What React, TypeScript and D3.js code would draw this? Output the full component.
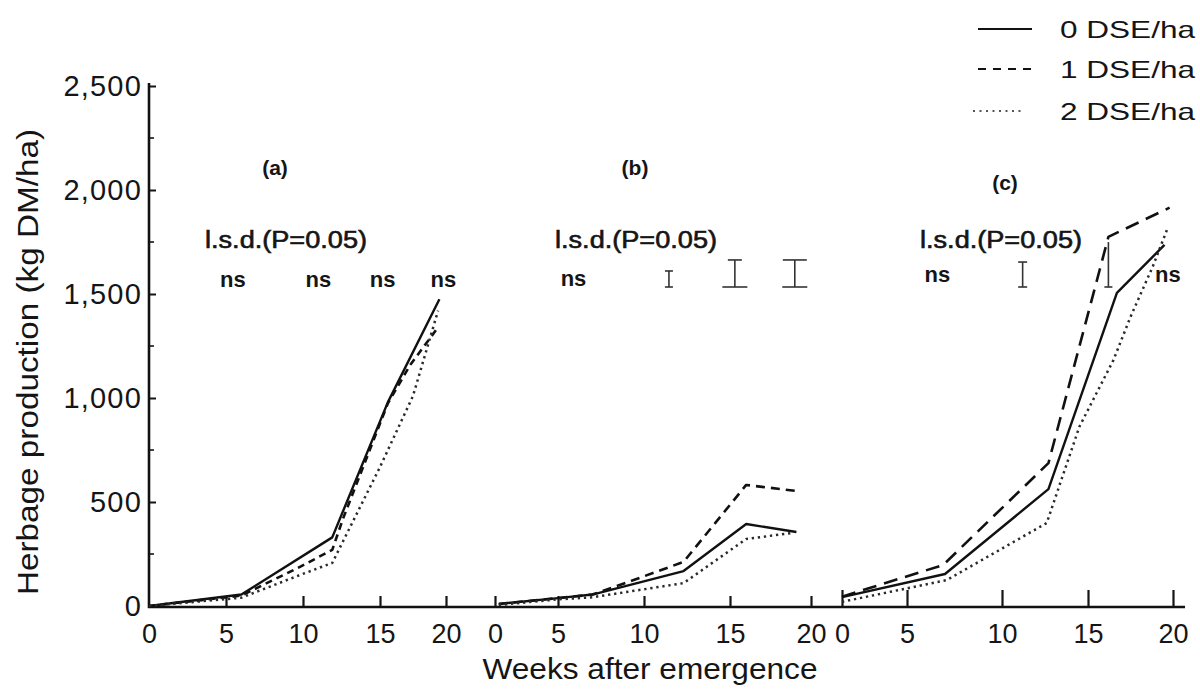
import React, { useRef, useEffect } from "react";
import * as d3 from "d3";

// y axis
const yTicks = [0, 500, 1000, 1500, 2000, 2500];
const yMinorTicks = [250, 750, 1250, 1750, 2250];
const weekTicks = [0, 5, 10, 15, 20];

// series: [week, kg DM/ha]
const panelA0 = [[0, 0], [6, 55], [11.9, 330], [15.6, 980], [19.5, 1475]];
const panelA1 = [[0, 0], [6, 50], [9.8, 188], [11.9, 270], [12.6, 420], [15.6, 975], [17.3, 1160], [19.4, 1340]];
const panelA2 = [[0, 0], [6, 40], [9.8, 149], [11.9, 207], [15, 668], [17.5, 1010], [19.4, 1420]];

const panelB0 = [[0.3, 10], [5, 38], [7, 55], [12.3, 168], [16, 394], [19.1, 356]];
const panelB1 = [[0.3, 10], [5, 38], [7, 55], [9.4, 125], [12.3, 212], [16, 582], [19.1, 553]];
const panelB2 = [[0.3, 5], [5, 32], [7, 42], [12.3, 110], [16, 322], [18.8, 351]];

const panelC0 = [[0, 43], [7, 154], [12.7, 562], [16.7, 1505], [19.5, 1736]];
const panelC1 = [[0, 45], [6.9, 197], [12.7, 687], [15.7, 1620], [16.2, 1775], [19.8, 1915]];
const panelC2 = [[0, 20], [7.1, 125], [12.6, 399], [14.5, 862], [16.5, 1183], [17.5, 1390], [18.8, 1630], [19.7, 1820]];

// l.s.d. (P=0.05): week of each sampling, null = ns
const lsdWeeksA = [5.45, 11, 15.2, 19.8];
const lsdValuesA = [null, null, null, null];
const lsdWeeksB = [5.9, 11.45, 15.3, 19.0];
const lsdValuesB = [null, 77, 130, 130];
const lsdWeeksC = [6.6, 11.2, 16.2, 19.7];
const lsdValuesC = [null, 120, 216, null];

const panelNames = ["(a)", "(b)", "(c)"];
const seriesNames = ["0 DSE/ha", "1 DSE/ha", "2 DSE/ha"];

const FONT = "'Liberation Sans', Arial, Helvetica, sans-serif";
const INK = "#151515";

const App = () => {
  const svgRef = useRef(null);
  const width = 1200;
  const height = 689;

  useEffect(() => {
    const svg = d3.select(svgRef.current);
    svg.selectAll("*").remove();

    const yScale = d3.scaleLinear().domain([0, 2500]).range([606, 86]);
    const axisY = 607;

    // tick spacing of the scanned axis is uneven, so each panel is piecewise
    const panels = [
      {
        name: panelNames[0],
        x: d3.scaleLinear().domain(weekTicks).range([149, 226, 303, 380, 446]),
        series: [panelA0, panelA1, panelA2],
        lsdWeeks: lsdWeeksA, lsdValues: lsdValuesA,
        labelPos: [275, 175], lsdPos: [286, 248], nsY: 287,
        tickLen: 11, ticks: [5, 10, 15, 20], dash: "7,5",
        serif: [[0, 0]]
      },
      {
        name: panelNames[1],
        x: d3.scaleLinear().domain(weekTicks).range([495, 558, 644, 730, 811]),
        series: [panelB0, panelB1, panelB2],
        lsdWeeks: lsdWeeksB, lsdValues: lsdValuesB,
        labelPos: [635, 175], lsdPos: [636, 248], nsY: 286,
        tickLen: 11, ticks: weekTicks, dash: "9,6",
        serif: [[0, 0], [4, 4], [7, 12.5], [12, 12.5]]
      },
      {
        name: panelNames[2],
        x: d3.scaleLinear().domain(weekTicks).range([842, 907, 1002, 1088, 1173]),
        series: [panelC0, panelC1, panelC2],
        lsdWeeks: lsdWeeksC, lsdValues: lsdValuesC,
        labelPos: [1005, 190], lsdPos: [1001, 248], nsY: 282,
        tickLen: 17, ticks: weekTicks, dash: "14,8",
        serif: [[0, 0], [4.5, 4.5], [0, 4], [0, 0]]
      }
    ];

    const g = svg.append("g").attr("font-family", FONT).attr("fill", INK);

    // y axis
    const yAxis = d3.axisLeft(yScale)
      .tickValues(yTicks)
      .tickSizeInner(-7)
      .tickSizeOuter(0)
      .tickPadding(7)
      .tickFormat(d3.format(","));
    const yAxisG = g.append("g").attr("transform", "translate(149,0)").call(yAxis);
    yAxisG.select(".domain").remove();
    yAxisG.selectAll("text")
      .attr("font-size", 29).attr("font-family", FONT).attr("fill", INK)
      .attr("letter-spacing", 1.2);
    yAxisG.selectAll("line").attr("stroke", INK).attr("stroke-width", 2);
    g.append("g").selectAll("line").data(yMinorTicks).join("line")
      .attr("x1", 149).attr("x2", 154)
      .attr("y1", d => yScale(d)).attr("y2", d => yScale(d))
      .attr("stroke", INK).attr("stroke-width", 1.6);
    g.append("line").attr("x1", 149).attr("x2", 149).attr("y1", 83).attr("y2", axisY + 1)
      .attr("stroke", "#111").attr("stroke-width", 2.6);

    // x axis baseline
    g.append("line").attr("x1", 148).attr("x2", 1185).attr("y1", axisY).attr("y2", axisY)
      .attr("stroke", "#111").attr("stroke-width", 2.6);

    panels.forEach((p) => {
      const xAxis = d3.axisBottom(p.x)
        .tickValues(weekTicks)
        .tickSizeInner(-p.tickLen)
        .tickSizeOuter(0)
        .tickPadding(17)
        .tickFormat(d3.format("d"));
      const xg = g.append("g").attr("transform", `translate(0,${axisY})`).call(xAxis);
      xg.select(".domain").remove();
      xg.selectAll("text").attr("font-size", 27).attr("font-family", FONT).attr("fill", INK);
      xg.selectAll(".tick line")
        .attr("stroke", INK).attr("stroke-width", 2.2)
        .attr("opacity", (d) => (p.ticks.includes(d) ? 1 : 0));

      // panel label + l.s.d. heading
      g.append("text").attr("x", p.labelPos[0]).attr("y", p.labelPos[1])
        .attr("text-anchor", "middle").attr("font-size", 21).attr("font-weight", "bold")
        .text(p.name);
      g.append("text").attr("x", p.lsdPos[0]).attr("y", p.lsdPos[1])
        .attr("text-anchor", "middle").attr("font-size", 23)
        .attr("stroke", INK).attr("stroke-width", 0.6)
        .attr("textLength", 162).attr("lengthAdjust", "spacingAndGlyphs")
        .text("l.s.d.(P=0.05)");

      // ns / lsd bars
      p.lsdWeeks.forEach((w, i) => {
        const v = p.lsdValues[i];
        const cx = p.x(w);
        if (v === null) {
          g.append("text").attr("x", cx).attr("y", p.nsY)
            .attr("text-anchor", "middle").attr("font-size", 22).attr("font-weight", "bold")
            .text("ns");
        } else {
          const h = yScale(0) - yScale(v);
          const bottom = 287;
          const top = bottom - h;
          const [st, sb] = p.serif[i];
          const bar = g.append("g").attr("stroke", "#333").attr("stroke-width", 1.6);
          bar.append("line").attr("x1", cx).attr("x2", cx).attr("y1", top).attr("y2", bottom);
          bar.append("line").attr("x1", cx - st).attr("x2", cx + st).attr("y1", top).attr("y2", top);
          bar.append("line").attr("x1", cx - sb).attr("x2", cx + sb).attr("y1", bottom).attr("y2", bottom);
        }
      });

      // series lines
      const line = d3.line<number[]>().x(d => p.x(d[0])).y(d => yScale(d[1]));
      const styles = [
        { dash: null, w: 2.4, c: "#111" },
        { dash: p.dash, w: 2.6, c: "#111" },
        { dash: "2.3,3.8", w: 2.5, c: "#2a2a2a" }
      ];
      p.series.forEach((s, si) => {
        g.append("path")
          .attr("d", line(s as any))
          .attr("fill", "none")
          .attr("stroke", styles[si].c)
          .attr("stroke-width", styles[si].w)
          .attr("stroke-dasharray", styles[si].dash)
          .attr("stroke-linejoin", "round");
      });
    });

    // axis titles
    g.append("text")
      .attr("transform", "translate(38,362) rotate(-90)")
      .attr("text-anchor", "middle").attr("font-size", 30)
      .attr("textLength", 466).attr("lengthAdjust", "spacingAndGlyphs")
      .text("Herbage production (kg DM/ha)");
    g.append("text").attr("x", 650).attr("y", 679)
      .attr("text-anchor", "middle").attr("font-size", 30)
      .attr("textLength", 335).attr("lengthAdjust", "spacingAndGlyphs")
      .text("Weeks after emergence");

    // legend
    const legendY = [29, 69, 111];
    const legendDash = [null, "8,7", "2,4.5"];
    const legend = g.append("g");
    seriesNames.forEach((name, i) => {
      legend.append("line")
        .attr("x1", i === 2 ? 973 : 978).attr("x2", i === 2 ? 1022 : 1032)
        .attr("y1", legendY[i]).attr("y2", legendY[i])
        .attr("stroke", i === 2 ? "#555" : "#111").attr("stroke-width", 2)
        .attr("stroke-dasharray", legendDash[i]);
      legend.append("text").attr("x", 1060).attr("y", legendY[i] + 9)
        .attr("font-size", 24)
        .attr("textLength", 135).attr("lengthAdjust", "spacingAndGlyphs")
        .text(name);
    });
  }, []);

  return (
    <div>
      <svg ref={svgRef} width={width} height={height}
        style={{ position: "absolute", left: 0, top: 0, background: "#fff" }} />
    </div>
  );
};

export default App;
